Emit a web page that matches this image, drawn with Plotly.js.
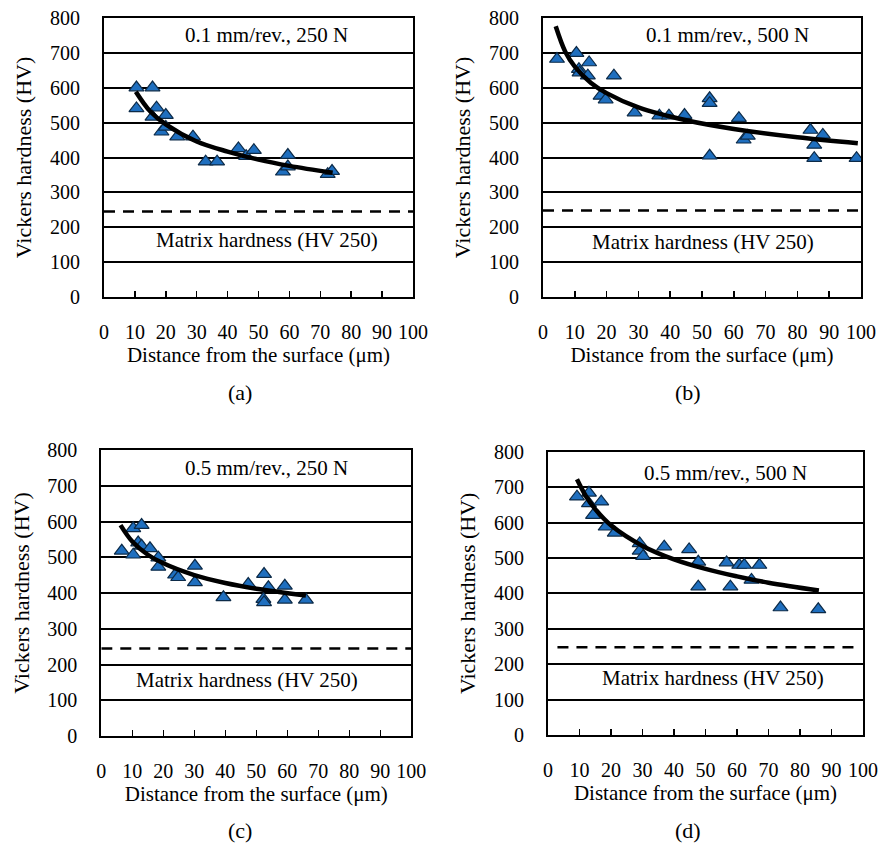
<!DOCTYPE html>
<html>
<head>
<meta charset="utf-8">
<script src="https://cdn.plot.ly/plotly-3.0.1.min.js"></script>
<style>html,body{margin:0;padding:0;background:#fff;}#chart{width:888px;height:844px;}</style>
</head>
<body>
<div id="chart"></div>
<script>
// ---- Data ----
// (a) 0.1 mm/rev., 250 N
const aX = [10.5, 15.7, 10.5, 17, 15.7, 20, 18.6, 20, 23.7, 28.8, 32.9, 36.6, 43.5, 46, 48.5, 59.5, 57.9, 59.5, 72.4, 73.8];
const aY = [601, 601, 541, 543, 517, 522, 474, 488, 460, 460, 388, 388, 426, 404, 421, 407, 359, 374, 352, 361];
const aTrendX = [10.3, 15, 20, 30, 40, 50, 60, 74];
const aTrendY = [589, 532, 495, 446, 417, 394, 376, 356];
// (b) 0.1 mm/rev., 500 N
const bX = [4.4, 10.5, 11.3, 11.5, 14.5, 14.1, 22.3, 18.1, 19.7, 28.8, 36.6, 39.6, 44.5, 52.4, 52.4, 52.4, 61.6, 63.1, 64.4, 84.1, 85.3, 85.3, 88, 98.6];
const bY = [683, 700, 654, 644, 673, 635, 635, 577, 566, 529, 520, 520, 522, 570, 556, 405, 513, 451, 462, 479, 436, 398, 465, 398];
const bTrendX = [4, 7, 10, 15, 20, 30, 45, 60, 80, 99];
const bTrendY = [777, 704, 661, 615, 585, 544, 507, 482, 458, 441];
// (c) 0.5 mm/rev., 250 N
const cX = [6.6, 10.3, 13, 10.3, 11.9, 13, 15.7, 18.4, 18.4, 23.8, 24.8, 30.2, 30.2, 39.4, 47.4, 52.5, 53.9, 52.3, 52.5, 59.2, 59.2, 66];
const cY = [518, 581, 590, 507, 541, 532, 525, 499, 473, 451, 444, 476, 430, 388, 425, 453, 416, 383, 374, 420, 381, 381];
const cTrendX = [6.2, 10, 15, 20, 30, 40, 50, 66];
const cTrendY = [590, 544, 507, 483, 450, 428, 412, 393];
// (d) 0.5 mm/rev., 500 N
const dX = [9.2, 13, 13, 16.9, 14.3, 18.3, 21.2, 29.1, 29.1, 30.2, 36.9, 44.8, 47.7, 47.7, 56.7, 57.9, 60.7, 62.3, 67.1, 64.6, 73.8, 85.8];
const dY = [673, 684, 654, 659, 621, 588, 571, 541, 520, 505, 532, 524, 489, 419, 487, 419, 480, 480, 480, 438, 360, 355];
const dTrendX = [9.2, 12, 15, 20, 30, 40, 50, 60, 70, 86];
const dTrendY = [722, 675, 638, 592, 534, 496, 469, 448, 430, 408];

const matrixHV = [245, 248, 245, 248];
const matrixX0 = [0, 0, 0, 3];
const matrixX1 = [100, 100, 100, 99];
const conditions = ['0.1 mm/rev., 250 N', '0.1 mm/rev., 500 N', '0.5 mm/rev., 250 N', '0.5 mm/rev., 500 N'];
const panelLabels = ['(a)', '(b)', '(c)', '(d)'];
const xTicks = [0, 10, 20, 30, 40, 50, 60, 70, 80, 90, 100];
const yTicks = [0, 100, 200, 300, 400, 500, 600, 700, 800];

// ---- Build ----
const F = '"Liberation Serif", "Times New Roman", serif';
const pts = [[aX, aY], [bX, bY], [cX, cY], [dX, dY]];
const trends = [[aTrendX, aTrendY], [bTrendX, bTrendY], [cTrendX, cTrendY], [dTrendX, dTrendY]];
const axSuffix = ['', '2', '3', '4'];
const traces = [];
for (let i = 0; i < 4; i++) {
  const xa = 'x' + axSuffix[i], ya = 'y' + axSuffix[i];
  traces.push({x: [matrixX0[i], matrixX1[i]], y: [matrixHV[i], matrixHV[i]], xaxis: xa, yaxis: ya, mode: 'lines',
    line: {color: '#000', width: 2.5, dash: '11px,8px'}, hoverinfo: 'skip', showlegend: false});
  traces.push({x: pts[i][0], y: pts[i][1], xaxis: xa, yaxis: ya, mode: 'markers', showlegend: false,
    marker: {symbol: 'triangle-up', size: 13, color: '#1f6fbf', line: {color: '#0d2b48', width: 1.2}}});
  traces.push({x: trends[i][0], y: trends[i][1], xaxis: xa, yaxis: ya, mode: 'lines', showlegend: false,
    line: {color: '#000', width: 4.5, shape: 'spline', smoothing: 1}});
}

const W = 888, H = 844;
const boxes = [
  {l: 104, r: 413, t: 18.3, b: 296.7},
  {l: 543, r: 861, t: 18.3, b: 296.7},
  {l: 101.3, r: 411.3, t: 450, b: 736},
  {l: 548, r: 863, t: 451.7, b: 735}
];
const layout = {
  width: W, height: H, margin: {l: 0, r: 0, t: 0, b: 0},
  paper_bgcolor: '#fff', plot_bgcolor: '#fff', showlegend: false,
  font: {family: F, size: 20, color: '#000'},
  annotations: []
};
for (let i = 0; i < 4; i++) {
  const bx = boxes[i];
  const xk = 'xaxis' + axSuffix[i], yk = 'yaxis' + axSuffix[i];
  layout[xk] = {
    domain: [bx.l / W, bx.r / W], anchor: 'y' + axSuffix[i], range: [0, 100],
    tickvals: xTicks, ticktext: xTicks.map(String), ticks: 'inside', ticklen: 6, tickwidth: 1.5, tickcolor: '#000',
    showline: true, mirror: true, linecolor: '#000', linewidth: 2, showgrid: false, zeroline: false,
    tickfont: {family: F, size: 20, color: '#000'}, ticklabelstandoff: 16,
    title: {text: 'Distance from the surface (μm)', font: {family: F, size: 21, color: '#000'}, standoff: 0}
  };
  layout[yk] = {
    domain: [1 - bx.b / H, 1 - bx.t / H], anchor: 'x' + axSuffix[i], range: [0, 800],
    tickvals: yTicks, ticktext: yTicks.map(String), ticks: '',
    showline: true, mirror: true, linecolor: '#000', linewidth: 2, showgrid: true, gridcolor: '#000', gridwidth: 2, zeroline: false,
    tickfont: {family: F, size: 20, color: '#000'}, ticklabelstandoff: 18,
    title: {text: 'Vickers hardness (HV)', font: {family: F, size: 22, color: '#000'}, standoff: 12}
  };
}
const condPos = [[52.6, 752], [57.9, 752], [53.3, 750], [56.5, 739]];
const matPos = [[52.6, 163], [50.2, 158], [46.9, 156], [52.4, 160]];
const labPos = [[240, 393], [688, 393], [240, 830], [688, 830]];
for (let i = 0; i < 4; i++) {
  layout.annotations.push({xref: 'x' + axSuffix[i], yref: 'y' + axSuffix[i], x: condPos[i][0], y: condPos[i][1],
    xanchor: 'center', yanchor: 'middle',
    text: conditions[i], showarrow: false, font: {family: F, size: 21, color: '#000'}});
  layout.annotations.push({xref: 'x' + axSuffix[i], yref: 'y' + axSuffix[i], x: matPos[i][0], y: matPos[i][1],
    xanchor: 'center', yanchor: 'middle',
    text: 'Matrix hardness (HV 250)', showarrow: false, font: {family: F, size: 21, color: '#000'}});
  layout.annotations.push({xref: 'paper', yref: 'paper', x: labPos[i][0] / W, y: 1 - labPos[i][1] / H,
    xanchor: 'center', yanchor: 'middle',
    text: panelLabels[i], showarrow: false, font: {family: F, size: 22, color: '#000'}});
}
Plotly.newPlot('chart', traces, layout, {staticPlot: true, displayModeBar: false});
</script>
</body>
</html>
